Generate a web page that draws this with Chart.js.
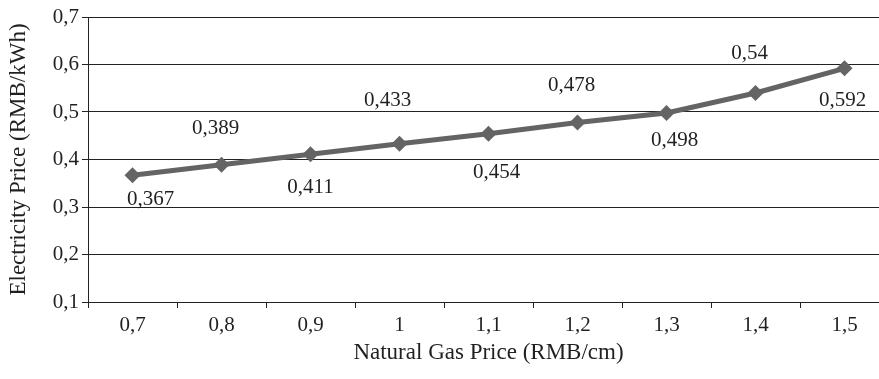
<!DOCTYPE html>
<html>
<head>
<meta charset="utf-8">
<script src="https://cdn.jsdelivr.net/npm/chart.js@4/dist/chart.umd.min.js"></script>
<style>
  html, body { margin: 0; padding: 0; background: #fff; overflow: hidden; }
  #wrap { width: 900px; height: 379px; }
</style>
</head>
<body>
<div id="wrap"><canvas id="c" width="900" height="379"></canvas></div>
<script>
// Natural gas price (RMB/cm) on the x axis
const gasPrices = ['0,7', '0,8', '0,9', '1', '1,1', '1,2', '1,3', '1,4', '1,5'];
// Resulting electricity price (RMB/kWh)
const electricityPrices = [0.367, 0.389, 0.411, 0.433, 0.454, 0.478, 0.498, 0.54, 0.592];
// Y axis range
const yMin = 0.1, yMax = 0.7, yStep = 0.1;

// Where each value label sits relative to its point (px)
const labelOffsets = [
  [18, 24], [-6, -36], [0, 33], [-12, -43], [8, 39],
  [-6, -37], [8, 28], [-6, -40], [-2, 32]
];

const serif = '"Liberation Serif", "DejaVu Serif", serif';
const ink = '#231f20';
const comma = v => String(v).replace('.', ',');

const valueLabels = {
  id: 'valueLabels',
  afterDatasetsDraw(chart) {
    const ctx = chart.ctx;
    const meta = chart.getDatasetMeta(0);
    ctx.save();
    ctx.font = '21px ' + serif;
    ctx.fillStyle = ink;
    ctx.textAlign = 'center';
    ctx.textBaseline = 'middle';
    meta.data.forEach((pt, i) => {
      const [dx, dy] = labelOffsets[i];
      ctx.fillText(comma(electricityPrices[i]), pt.x + dx, pt.y + dy);
    });
    ctx.restore();
  }
};

new Chart(document.getElementById('c'), {
  type: 'line',
  data: {
    labels: gasPrices,
    datasets: [{
      data: electricityPrices,
      borderColor: '#646464',
      backgroundColor: '#646464',
      borderWidth: 5,
      pointStyle: 'rectRot',
      pointRadius: 8,
      pointBorderWidth: 0,
      tension: 0
    }]
  },
  options: {
    responsive: false,
    animation: false,
    layout: { padding: { left: 0, top: 17, right: 11, bottom: 0 } },
    plugins: { legend: { display: false }, tooltip: { enabled: false } },
    scales: {
      x: {
        offset: true,
        grid: { display: true, offset: true, drawOnChartArea: false, drawTicks: true, tickLength: 6, color: '#222', lineWidth: 1 },
        border: { display: true, color: '#222', width: 1 },
        ticks: { color: ink, font: { family: serif, size: 21 }, padding: 5, maxRotation: 0 },
        title: { display: true, text: 'Natural Gas Price (RMB/cm)', color: ink, font: { family: serif, size: 23 }, padding: { top: 0, bottom: 12 } },
        afterFit(s) { s.height = 77; }
      },
      y: {
        min: yMin, max: yMax,
        grid: { color: '#222', lineWidth: 1, tickLength: 6 },
        border: { display: true, color: '#222', width: 1 },
        ticks: { stepSize: yStep, color: ink, font: { family: serif, size: 21 }, padding: 3, callback: v => Number(v).toFixed(1).replace('.', ',') },
        title: { display: true, text: 'Electricity Price (RMB/kWh)', color: ink, font: { family: serif, size: 23 }, padding: { top: 5, bottom: 0 } },
        afterFit(s) { s.width = 88; }
      }
    }
  },
  plugins: [valueLabels]
});
</script>
</body>
</html>
